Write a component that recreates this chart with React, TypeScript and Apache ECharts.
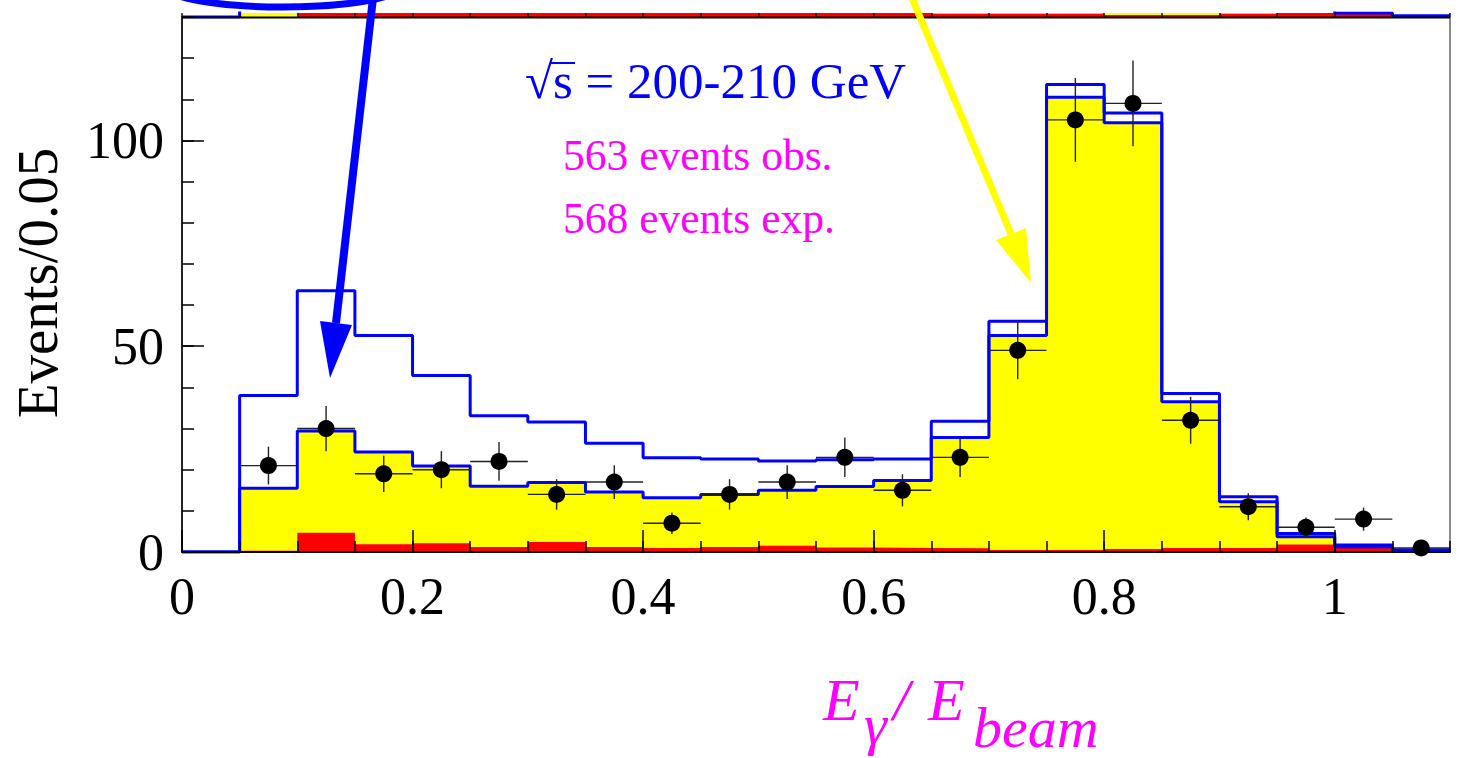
import React, { useEffect, useRef } from "react";
import * as echarts from "echarts";

// ---- data ----
const binEdges = [0, 0.05, 0.1, 0.15, 0.2, 0.25, 0.3, 0.35, 0.4, 0.45, 0.5, 0.55, 0.6, 0.65, 0.7, 0.75, 0.8, 0.85, 0.9, 0.95, 1.0, 1.05, 1.1];
// MC total (upper blue outline)
const mcTotal = [0, 38, 63.5, 52.6, 42.9, 33.1, 31.6, 26.4, 22.9, 22.6, 22.1, 22.4, 22.6, 31.8, 56.1, 113.6, 106.7, 38.5, 13.4, 4.5, 1.7, 0.5];
// MC (yellow, blue outline)
const mcYellow = [0, 15.5, 29.4, 24.3, 20.9, 16.0, 16.9, 14.6, 13.2, 14.0, 15.0, 15.9, 17.4, 27.8, 52.6, 110.5, 104.3, 36.5, 12.2, 3.7, 1.3, 0.5];
// background (red)
const mcRed = [0, 0.3, 4.7, 1.9, 2.1, 1.2, 2.4, 1.2, 1.0, 1.2, 1.5, 1.1, 1.0, 0.9, 0.5, 0.5, 0.7, 1.0, 1.0, 1.8, 1.0, 0];
// data points
const dataX = [0.075, 0.125, 0.175, 0.225, 0.275, 0.325, 0.375, 0.425, 0.475, 0.525, 0.575, 0.625, 0.675, 0.725, 0.775, 0.825, 0.875, 0.925, 0.975, 1.025, 1.075];
const dataY = [21, 30, 19, 20, 22, 14, 17, 7, 14, 17, 23, 15, 23, 49, 105, 109, 32, 11, 6, 8, 1];
const dataErr = [4.6, 5.5, 4.4, 4.5, 4.7, 3.7, 4.1, 2.6, 3.7, 4.1, 4.8, 3.9, 4.8, 7.0, 10.2, 10.4, 5.7, 3.3, 2.4, 2.8, 1.0];
// bottom of the (cropped) panel above, visible as a thin strip at the top
const upperYellow = [0, 3, 3, 3, 3, 3, 3, 3, 3, 3, 3, 3, 3, 3, 3, 3, 3, 3, 3, 3, 1.0, 0.3];
const upperRed = [0, 0, 3, 3, 3, 3, 3, 3, 3, 3, 3, 3, 3, 0.8, 0.8, 0.8, 0.5, 0.5, 0.8, 3, 0.8, 0];

const xTickLabels = ["0", "0.2", "0.4", "0.6", "0.8", "1"];
const yTickLabels = ["0", "50", "100"];

const titleText = "\u221As = 200-210 GeV";
const obsText = "563 events obs.";
const expText = "568 events exp.";
const yName = "Events/0.05";

const BIN_W = 0.05;
const SERIF = "'Liberation Serif', 'Times New Roman', serif";

function stepData(vals: number[]) {
  const d: number[][] = vals.map((v, i) => [binEdges[i], v]);
  d.push([binEdges[binEdges.length - 1], vals[vals.length - 1]]);
  return d;
}

function txt(text: string, x: number, y: number, size: number, color: string, extra: any = {}) {
  return {
    type: "text", z: 40, x, y, ...extra.el,
    style: {
      text, fill: color, fontSize: size, fontFamily: SERIF,
      fontStyle: extra.italic ? "italic" : "normal",
      textAlign: extra.align || "left", align: extra.align || "left",
      textVerticalAlign: "middle", verticalAlign: "middle",
    },
  };
}

export default function App() {
  const ref = useRef<HTMLDivElement>(null);
  useEffect(() => {
    if (!ref.current) return;
    const chart = echarts.init(ref.current, null, { renderer: "svg" });
    const xmin = binEdges[0];
    const xmax = binEdges[binEdges.length - 1];
    const labelStyle = { fontFamily: SERIF, fontSize: 52, color: "#000" };

    const option: any = {
      animation: false,
      backgroundColor: "#fff",
      grid: [
        { left: 182, right: 8, top: 17, bottom: 206, show: true, borderColor: "#666", borderWidth: 1.5, backgroundColor: "transparent" },
        { left: 182, right: 8, top: 13, height: 4, show: false },
      ],
      xAxis: [
        {
          gridIndex: 0, type: "value", min: xmin, max: xmax, interval: 0.05, position: "bottom", offset: 0, z: 10,
          axisLine: { show: true, onZero: false, lineStyle: { color: "#000", width: 2 } },
          axisTick: { show: true, inside: true, length: 11, lineStyle: { color: "#000", width: 1.5 } },
          axisLabel: { show: false }, splitLine: { show: false },
        },
        {
          gridIndex: 0, type: "value", min: xmin, max: xmax, interval: 0.2, position: "bottom", offset: 0, z: 10,
          axisLine: { show: false, onZero: false },
          axisTick: { show: true, inside: true, length: 22, lineStyle: { color: "#000", width: 1.5 } },
          axisLabel: {
            show: true, margin: 18, showMaxLabel: false, ...labelStyle,
            formatter: (v: number) => {
              const i = Math.round(v / 0.2);
              return Math.abs(v - i * 0.2) < 1e-6 && i < xTickLabels.length ? xTickLabels[i] : "";
            },
          },
          splitLine: { show: false },
        },
        {
          gridIndex: 1, type: "value", min: xmin, max: xmax, interval: 0.05, position: "bottom", offset: 0, z: 10,
          axisLine: { show: false },
          axisTick: { show: true, inside: true, length: 4, lineStyle: { color: "#111", width: 1.5 } },
          axisLabel: { show: false }, splitLine: { show: false },
        },
      ],
      yAxis: [
        {
          gridIndex: 0, type: "value", min: 0, max: 130, interval: 10, position: "left", offset: 0, z: 10,
          axisLine: { show: true, onZero: false, lineStyle: { color: "#000", width: 1.5 } },
          axisTick: { show: true, inside: true, length: 12, lineStyle: { color: "#000", width: 1.5 } },
          axisLabel: { show: false }, splitLine: { show: false },
        },
        {
          gridIndex: 0, type: "value", min: 0, max: 130, interval: 50, position: "left", offset: 0, z: 10,
          axisLine: { show: false, onZero: false },
          axisTick: { show: true, inside: true, length: 22, lineStyle: { color: "#000", width: 1.5 } },
          axisLabel: {
            show: true, margin: 18, showMaxLabel: false, ...labelStyle,
            formatter: (v: number) => {
              const i = Math.round(v / 50);
              return i < yTickLabels.length ? yTickLabels[i] : "";
            },
          },
          splitLine: { show: false },
        },
        { gridIndex: 1, type: "value", min: 0, max: 1, show: false },
      ],
      series: [
        // strip from the panel above
        {
          type: "line", xAxisIndex: 2, yAxisIndex: 2, step: "end", showSymbol: false, z: 2,
          data: stepData(upperYellow), lineStyle: { width: 0 },
          areaStyle: { color: "#ffff00", opacity: 1 },
        },
        {
          type: "line", xAxisIndex: 2, yAxisIndex: 2, step: "end", showSymbol: false, z: 3,
          data: stepData(upperRed), lineStyle: { width: 0 },
          areaStyle: { color: "#ff0000", opacity: 1 },
        },
        {
          type: "line", xAxisIndex: 2, yAxisIndex: 2, step: "end", showSymbol: false, z: 4,
          data: stepData(upperYellow), lineStyle: { color: "#0000ff", width: 3 },
        },
        // main panel
        {
          type: "line", xAxisIndex: 0, yAxisIndex: 0, step: "end", showSymbol: false, z: 2,
          data: stepData(mcYellow), lineStyle: { width: 0 },
          areaStyle: { color: "#ffff00", opacity: 1 },
        },
        {
          type: "line", xAxisIndex: 0, yAxisIndex: 0, step: "end", showSymbol: false, z: 3,
          data: stepData(mcRed), lineStyle: { width: 0 },
          areaStyle: { color: "#ff0000", opacity: 1 },
        },
        {
          type: "line", xAxisIndex: 0, yAxisIndex: 0, step: "end", showSymbol: false, z: 4,
          data: stepData(mcYellow), lineStyle: { color: "#0000ff", width: 3 },
        },
        {
          type: "line", xAxisIndex: 0, yAxisIndex: 0, step: "end", showSymbol: false, z: 4,
          data: stepData(mcTotal), lineStyle: { color: "#0000ff", width: 3 },
        },
        {
          type: "custom", xAxisIndex: 0, yAxisIndex: 0, z: 5,
          data: dataX.map((x, i) => [x, dataY[i], dataErr[i]]),
          encode: { x: 0, y: 1 },
          renderItem: (params: any, api: any) => {
            const x = api.value(0), y = api.value(1), e = api.value(2);
            const l = api.coord([x - BIN_W / 2, y]);
            const r = api.coord([x + BIN_W / 2, y]);
            const t = api.coord([x, y + e]);
            const b = api.coord([x, Math.max(0, y - e)]);
            const style = { stroke: "#222", lineWidth: 1.4 };
            return {
              type: "group",
              children: [
                { type: "line", shape: { x1: l[0], y1: l[1], x2: r[0], y2: r[1] }, style },
                { type: "line", shape: { x1: t[0], y1: t[1], x2: b[0], y2: b[1] }, style },
              ],
            };
          },
        },
        {
          type: "scatter", xAxisIndex: 0, yAxisIndex: 0, z: 6,
          symbol: "circle", symbolSize: 17,
          itemStyle: { color: "#000", opacity: 1 },
          data: dataX.map((x, i) => [x, dataY[i]]),
        },
      ],
      graphic: [
        // frame top (shared edge with the panel above)
        { type: "line", z: 20, shape: { x1: 182, y1: 17.5, x2: 1450, y2: 17.5 }, style: { stroke: "#000", lineWidth: 2 } },
        // ellipse remnant
        { type: "ellipse", z: 30, shape: { cx: 283, cy: -14, rx: 118, ry: 21 }, style: { fill: "none", stroke: "#0000ff", lineWidth: 7 } },
        // blue arrow
        { type: "line", z: 30, shape: { x1: 373, y1: -2, x2: 336, y2: 323 }, style: { stroke: "#0000ff", lineWidth: 8 } },
        { type: "polygon", z: 30, shape: { points: [[320, 321], [352, 325], [330, 378]] }, style: { fill: "#0000ff" } },
        // yellow arrow
        { type: "line", z: 30, shape: { x1: 912, y1: -2, x2: 1011, y2: 234 }, style: { stroke: "#ffff00", lineWidth: 7 } },
        { type: "polygon", z: 30, shape: { points: [[996, 240], [1026, 228], [1031, 283]] }, style: { fill: "#ffff00" } },
        // texts
        txt(titleText, 525, 81, 51, "#0000ff"),
        // radical overline over "s"
        { type: "line", z: 40, shape: { x1: 550, y1: 63, x2: 575, y2: 63 }, style: { stroke: "#0000ff", lineWidth: 2 } },
        txt(obsText, 563, 155, 43.5, "#ff00ff"),
        txt(expText, 563, 218, 43.5, "#ff00ff"),
        txt(yName, 37, 283, 57, "#000", { align: "center", el: { rotation: Math.PI / 2 } }),
        // x-axis name: E_gamma / E_beam
        txt("E", 823, 700, 60, "#ff00ff", { italic: true }),
        txt("\u03B3", 864, 724, 58, "#ff00ff", { italic: true }),
        txt("/", 893, 700, 60, "#ff00ff", { italic: true }),
        txt("E", 928, 700, 60, "#ff00ff", { italic: true }),
        txt("beam", 973, 727, 58, "#ff00ff", { italic: true }),
      ],
    };
    chart.setOption(option);
    return () => chart.dispose();
  }, []);
  return (
    <div
      ref={ref}
      style={{ position: "fixed", left: 0, top: 0, width: 1458, height: 758, background: "#fff" }}
    />
  );
}
